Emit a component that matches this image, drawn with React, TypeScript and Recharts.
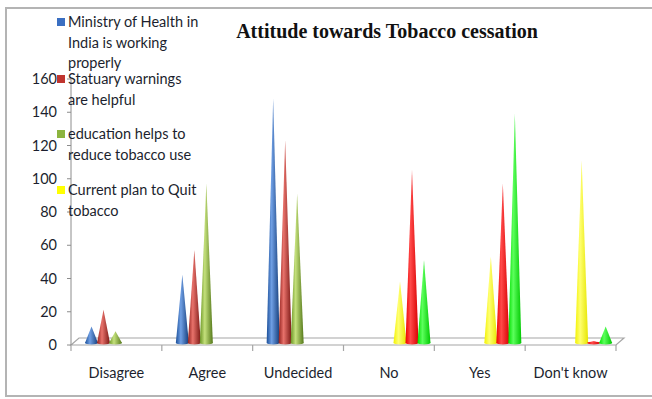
import { Bar, BarChart, ReferenceArea, XAxis, YAxis } from "recharts";

const categories = ["Disagree", "Agree", "Undecided", "No", "Yes", "Don't know"];

// first three answers: opinion statements
const ministry = [10, 41, 147, null, null, null];
const warnings = [20, 56, 122, null, null, null];
const education = [7, 96, 90, null, null, null];

// last three answers: plan to quit
const quitPlan = [null, null, null, 37, 52, 110];
const quitRed = [null, null, null, 104, 96, 1];
const quitGreen = [null, null, null, 50, 138, 10];

const yTicks = [0, 20, 40, 60, 80, 100, 120, 140, 160];

const legendItems = [
  { color: "#3a6fc2", lines: ["Ministry of Health in", "India is working", "properly"], top: 22 },
  { color: "#c0352f", lines: ["Statuary warnings", "are helpful"], top: 79 },
  { color: "#8cb43e", lines: ["education helps to", "reduce tobacco use"], top: 134 },
  { color: "#ffff00", lines: ["Current plan to Quit", "tobacco"], top: 190 }
];

const series = [
  { key: "ministry", id: "blue", stops: ["#1a4e98", "#6f9fe4", "#143d7a"] },
  { key: "warnings", id: "darkred", stops: ["#93211d", "#e8726b", "#7a1714"] },
  { key: "education", id: "olive", stops: ["#6a9524", "#c4e07c", "#55791a"] },
  { key: "quitPlan", id: "yellow", stops: ["#f2f200", "#ffff70", "#e6e600"] },
  { key: "quitRed", id: "red", stops: ["#ee0000", "#ff4a4a", "#d80000"] },
  { key: "quitGreen", id: "green", stops: ["#00e000", "#5cff5c", "#00c800"] }
];

const data = categories.map((name, i) => ({
  name,
  ministry: ministry[i],
  warnings: warnings[i],
  education: education[i],
  quitPlan: quitPlan[i],
  quitRed: quitRed[i],
  quitGreen: quitGreen[i]
}));

const FONT = "Lato, sans-serif";
const TEXT = "#1c1f2e";

// depth of the 3D floor
const DX = 8;
const DY = -7;
// cones stand in the middle of the floor depth
const CX = 5.5;
const CY = -2;

function Cone(props: any) {
  const { x, y, width, height, fillId } = props;
  if (height == null || width == null || isNaN(height)) return null;
  const left = x + CX - 0.5;
  const right = x + width + CX + 0.5;
  const base = y + height + CY;
  const top = y + CY;
  const mid = (left + right) / 2;
  return (
    <g>
      <path d={`M${left},${base} L${mid},${top} L${right},${base} Z`} fill={`url(#cone-${fillId})`} />
      <ellipse cx={mid} cy={base} rx={(right - left) / 2} ry={1.5} fill={`url(#cone-${fillId})`} />
    </g>
  );
}

function Floor(props: any) {
  const { x, y, width, height } = props;
  const bottom = y + height;
  const right = x + width;
  const step = width / categories.length;
  return (
    <g stroke="#a6a6a6" strokeWidth={1.2} fill="none">
      <path d={`M${x},${bottom} L${x + DX},${bottom + DY} L${right + DX},${bottom + DY} L${right},${bottom} Z`} fill="#ffffff" />
      {categories.map((c, i) => (
        <line key={c} x1={x + step * (i + 1)} y1={bottom} x2={x + step * (i + 1)} y2={bottom + 6} />
      ))}
      <line x1={x} y1={bottom} x2={x} y2={bottom + 6} />
    </g>
  );
}

export default function App() {
  return (
    <div style={{ position: "absolute", left: 0, top: 0, width: 652, height: 399, background: "#fff", fontFamily: FONT, overflow: "hidden" }}>
      <div style={{ position: "absolute", left: 5, top: 7, width: 660, height: 390, border: "2px solid #b4b4b4", boxSizing: "border-box" }} />
      <BarChart
        width={652}
        height={399}
        data={data}
        margin={{ top: 79, right: 36, bottom: 24, left: 11 }}
        barSize={12}
        barGap={0}
        style={{ position: "absolute", left: 0, top: 0 }}
      >
        <defs>
          {series.map((s) => (
            <linearGradient key={s.id} id={`cone-${s.id}`} x1="0" y1="0" x2="1" y2="0">
              <stop offset="0%" stopColor={s.stops[0]} />
              <stop offset="38%" stopColor={s.stops[1]} />
              <stop offset="100%" stopColor={s.stops[2]} />
            </linearGradient>
          ))}
        </defs>
        <ReferenceArea x1="Disagree" x2="Don't know" y1={0} y2={160} ifOverflow="visible" shape={<Floor />} />
        <XAxis
          dataKey="name"
          height={30}
          axisLine={false}
          tickLine={false}
          tickMargin={17}
          tick={{ fontSize: 14.5, fill: TEXT, fontFamily: FONT }}
          interval={0}
        />
        <YAxis
          width={60}
          domain={[0, 160]}
          ticks={yTicks}
          interval={0}
          axisLine={{ stroke: "#8c8c8c" }}
          tickLine={{ stroke: "#8c8c8c" }}
          tickSize={4}
          tickMargin={10}
          tick={{ fontSize: 14.5, fill: TEXT, fontFamily: FONT }}
        />
        {series.map((s) => (
          <Bar key={s.key} dataKey={s.key} isAnimationActive={false} shape={<Cone fillId={s.id} />} />
        ))}
      </BarChart>
      <div
        style={{
          position: "absolute",
          left: 226,
          top: 20,
          width: 322,
          textAlign: "center",
          fontFamily: "'Liberation Serif', serif",
          fontWeight: "bold",
          fontSize: 20,
          color: "#111"
        }}
      >
        Attitude towards Tobacco cessation
      </div>
      {legendItems.map((item) => (
        <div key={item.lines[0]} style={{ position: "absolute", left: 57, top: item.top - 10, fontSize: 14.5, color: TEXT }}>
          <div style={{ position: "absolute", left: 0, top: 6, width: 7.5, height: 7.5, background: item.color }} />
          {item.lines.map((line) => (
            <div key={line} style={{ marginLeft: 11, lineHeight: "20.5px", height: 20.5, whiteSpace: "nowrap" }}>
              {line}
            </div>
          ))}
        </div>
      ))}
    </div>
  );
}
